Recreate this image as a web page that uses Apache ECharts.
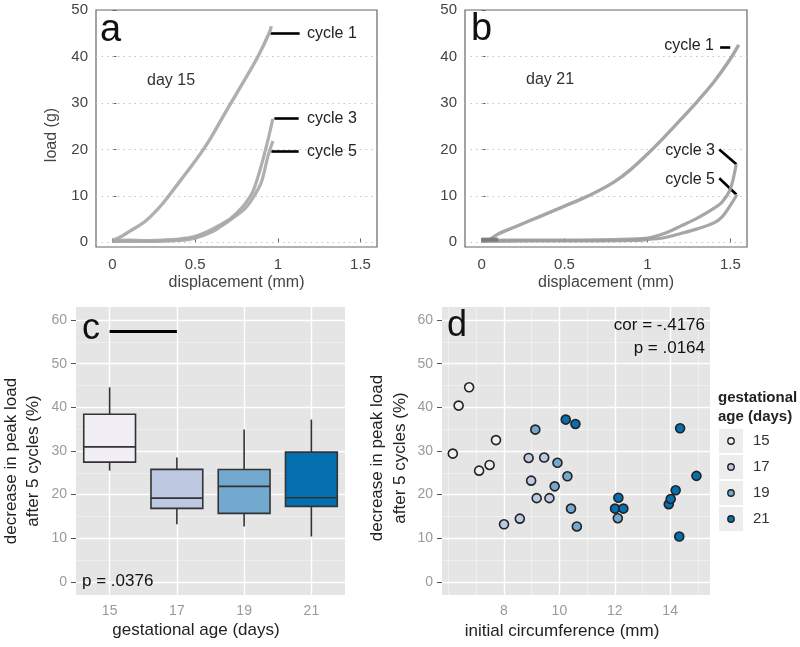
<!DOCTYPE html>
<html><head><meta charset="utf-8">
<script src="https://cdn.jsdelivr.net/npm/echarts@6/dist/echarts.min.js"></script>
<style>html,body{margin:0;padding:0;background:#fff}#c{width:800px;height:647px}</style>
</head><body><div id="c"></div>
<script>
// ---------- data: panel a (day 15), load (g) vs displacement (mm) ----------
const a15Cycle1 = [[0,0.4],[0.05,1.2],[0.1,2.3],[0.2,4.6],[0.3,8.2],[0.4,12.8],[0.5,17.5],[0.55,20],[0.6,22.8],[0.7,29],[0.8,35],[0.88,40],[0.95,45.2],[0.96,46.5]];
const a15Cycle3 = [[0,0.4],[0.1,0.5],[0.2,0.4],[0.3,0.5],[0.4,0.7],[0.5,1.3],[0.6,2.8],[0.7,4.8],[0.75,6.3],[0.8,8.2],[0.85,11],[0.9,16.5],[0.94,22],[0.97,26.6]];
const a15Cycle5 = [[0,0.2],[0.2,0.2],[0.4,0.4],[0.5,0.9],[0.6,2.2],[0.65,3.3],[0.7,4.5],[0.8,7.2],[0.85,9.6],[0.9,12.9],[0.94,18.5],[0.97,21.8]];
// ---------- data: panel b (day 21) ----------
const b21Cycle1 = [[0.05,0.6],[0.1,1.8],[0.2,3.3],[0.3,4.8],[0.4,6.3],[0.5,7.8],[0.6,9.3],[0.7,11],[0.8,13],[0.9,15.7],[1.0,19],[1.1,22.6],[1.2,26.4],[1.3,30.3],[1.4,34.5],[1.5,39.5],[1.55,42.5]];
const b21Cycle3 = [[0,0.4],[0.2,0.5],[0.4,0.5],[0.6,0.5],[0.8,0.6],[1.0,0.9],[1.1,1.9],[1.2,3.5],[1.3,5.2],[1.4,7.3],[1.45,8.7],[1.5,11.5],[1.535,16.8]];
const b21Cycle5 = [[0,0.2],[0.3,0.3],[0.6,0.3],[0.9,0.4],[1.0,0.6],[1.1,1.0],[1.2,1.9],[1.3,2.9],[1.4,4.2],[1.45,5.5],[1.5,8],[1.54,10.3]];
const b21Settle = [[0,0.6],[0.1,0.6]];
const abXTicks = [0,0.5,1,1.5];
const abYTicks = [0,10,20,30,40,50];

// ---------- data: panels c & d ----------
const ages = ['15','17','19','21'];
const circ15 = [6.15,6.36,6.74,7.10,7.48,7.71];
const dec15  = [29.4,40.4,44.6,25.5,26.8,32.5];
const circ17 = [8.0,8.57,8.89,8.98,9.18,9.45,9.64];
const dec17  = [13.2,14.5,28.4,23.2,19.2,28.5,19.2];
const circ19 = [9.13,9.83,9.93,10.29,10.42,10.63,12.11];
const dec19  = [34.9,21.9,27.3,24.2,16.8,12.7,14.6];
const circ21 = [10.23,10.58,12.01,12.13,12.31,13.95,14.02,14.2,14.36,14.33,14.95];
const dec21  = [37.2,36.2,16.8,19.3,16.8,17.8,19.0,21.0,35.2,10.4,24.3];
const cdYTicks = [0,10,20,30,40,50,60];
const cdYMinor = [5,15,25,35,45,55];
const dXTicks = [8,10,12,14];
const dXMinor = [6,7,9,11,13,15];
const sigBar = [['15',57.5],['17',57.5]];

const fills = ['#F1EEF6','#BDC9E1','#74A9CF','#0570B0'];
const FONT = '"Liberation Sans", Arial, Helvetica, sans-serif';

function quantile(s, p){ const h=(s.length-1)*p, lo=Math.floor(h); const hi=Math.min(lo+1,s.length-1); return s[lo]+(h-lo)*(s[hi]-s[lo]); }
function boxStats(vals){
  const s=[...vals].sort((a,b)=>a-b);
  const q1=quantile(s,.25), md=quantile(s,.5), q3=quantile(s,.75), iqr=q3-q1;
  const lo=s.find(v=>v>=q1-1.5*iqr), hi=[...s].reverse().find(v=>v<=q3+1.5*iqr);
  return [lo,q1,md,q3,hi];
}
const decs = [dec15,dec17,dec19,dec21];
const circs = [circ15,circ17,circ19,circ21];
const boxData = decs.map((d,i)=>[i, ...boxStats(d)]);

function txt(text, x, y, size, o={}) {
  return { type:'text', x, y, rotation:o.rot||0, z:100, silent:true,
    style:{ text, fontSize:size, fontFamily:FONT, fontWeight:o.bold?'bold':'normal', fill:o.color||'#222',
      align:o.align||'left', verticalAlign:'middle', textAlign:o.align||'left', textVerticalAlign:'middle',
      lineHeight:o.lh||Math.round(size*1.25) } };
}
function gridLines(xi, yi, hVals, vVals, style, z){
  return { type:'line', xAxisIndex:xi, yAxisIndex:yi, data:[], z, silent:true,
    markLine:{ silent:true, symbol:'none', animation:false, label:{show:false}, lineStyle:style, emphasis:{disabled:true},
      data:[...hVals.map(v=>({yAxis:v})), ...vVals.map(v=>({xAxis:v}))] } };
}
function annot(xi, yi, pairs, width){
  return { type:'line', xAxisIndex:xi, yAxisIndex:yi, data:[], z:20, silent:true,
    markLine:{ silent:true, symbol:'none', animation:false, label:{show:false}, emphasis:{disabled:true},
      lineStyle:{color:'#000', width, type:'solid'},
      data: pairs.map(p=>[{coord:p[0]},{coord:p[1]}]) } };
}
function curve(xi, yi, data, color, width){
  return { type:'line', xAxisIndex:xi, yAxisIndex:yi, data, showSymbol:false, smooth:0.3, z:5, silent:true,
    lineStyle:{color, width, opacity:0.9} };
}

const abX = (gi)=>({ type:'value', gridIndex:gi, min:-0.1, max:1.6,
  axisLine:{show:false}, splitLine:{show:false},
  axisTick:{show:true, inside:true, length:4, customValues:abXTicks, lineStyle:{color:'#666'}},
  axisLabel:{customValues:abXTicks, color:'#444', fontSize:15, fontFamily:FONT, margin:10} });
const abY = (gi)=>({ type:'value', gridIndex:gi, min:-1, max:50,
  axisLine:{show:false}, splitLine:{show:false},
  axisTick:{show:true, inside:true, length:4, customValues:abYTicks, lineStyle:{color:'#666'}},
  axisLabel:{customValues:abYTicks, color:'#444', fontSize:15, fontFamily:FONT, margin:8} });
const cdY = (gi)=>({ type:'value', gridIndex:gi, min:-3, max:63,
  axisLine:{show:false}, splitLine:{show:false},
  axisTick:{show:true, length:5, customValues:cdYTicks, lineStyle:{color:'#555'}},
  axisLabel:{customValues:cdYTicks, color:'#9a9a9a', fontSize:14, fontFamily:FONT, margin:9} });

const dotted = {color:'#c4c4c4', width:1, type:[1.5,4]};
const major = {color:'#ffffff', width:1.4, type:'solid'};
const minor = {color:'#f4f4f4', width:0.7, type:'solid'};

const legendEls = [];
ages.forEach((a,i)=>{
  const cy = 441 + i*26;
  legendEls.push({type:'rect', shape:{x:719,y:cy-12,width:24,height:24}, style:{fill:'#EDEDED'}, silent:true, z:50});
  legendEls.push({type:'circle', shape:{cx:731,cy,r:3.2}, style:{fill:fills[i], stroke:'#222', lineWidth:1.4}, silent:true, z:51});
  legendEls.push(txt(a, 753, cy, 15, {color:'#333'}));
});

const option = {
  animation:false,
  backgroundColor:'#fff',
  grid:[
    {left:96, top:10, width:281, height:237, show:true, borderColor:'#666', borderWidth:1.2, backgroundColor:'#fff'},
    {left:465, top:10, width:282, height:237, show:true, borderColor:'#666', borderWidth:1.2, backgroundColor:'#fff'},
    {left:76, top:307, width:269, height:288, show:true, borderWidth:0, backgroundColor:'#E5E5E5'},
    {left:442, top:307, width:268, height:288, show:true, borderWidth:0, backgroundColor:'#E5E5E5'}
  ],
  xAxis:[
    abX(0), abX(1),
    { type:'category', gridIndex:2, data:ages, boundaryGap:true,
      axisLine:{show:false}, splitLine:{show:false},
      axisTick:{show:true, alignWithLabel:true, length:5, lineStyle:{color:'#555'}},
      axisLabel:{color:'#9a9a9a', fontSize:14, fontFamily:FONT, margin:9} },
    { type:'value', gridIndex:3, min:5.76, max:15.44,
      axisLine:{show:false}, splitLine:{show:false},
      axisTick:{show:true, length:5, customValues:dXTicks, lineStyle:{color:'#555'}},
      axisLabel:{customValues:dXTicks, color:'#9a9a9a', fontSize:14, fontFamily:FONT, margin:9} }
  ],
  yAxis:[ abY(0), abY(1), cdY(2), cdY(3) ],
  series:[
    gridLines(0,0,[0,10,20,30,40],[],dotted,1),
    gridLines(1,1,[0,10,20,30,40],[],dotted,1),
    gridLines(2,2,cdYMinor,[],minor,1),
    gridLines(2,2,cdYTicks,ages,major,2),
    gridLines(3,3,cdYMinor,dXMinor,minor,1),
    gridLines(3,3,cdYTicks,dXTicks,major,2),
    curve(0,0,a15Cycle1,'#a6a6a6',3.4),
    curve(0,0,a15Cycle3,'#a6a6a6',3.2),
    curve(0,0,a15Cycle5,'#a6a6a6',3.2),
    curve(1,1,b21Cycle1,'#9c9c9c',3.4),
    curve(1,1,b21Cycle3,'#9c9c9c',3.2),
    curve(1,1,b21Cycle5,'#9c9c9c',3.2),
    curve(1,1,b21Settle,'#777777',4),
    annot(0,0,[[[0.955,44.9],[1.132,44.9]],[[0.979,26.8],[1.126,26.8]],[[0.961,19.7],[1.126,19.7]]],2.6),
    annot(1,1,[[[1.438,42.0],[1.499,42.0]],[[1.433,20.0],[1.536,16.8]],[[1.433,13.8],[1.536,10.3]]],2.6),
    annot(2,2,[sigBar],3),
    { type:'custom', xAxisIndex:2, yAxisIndex:2, z:10, silent:true,
      encode:{x:0, y:[1,2,3,4,5]}, data:boxData,
      renderItem:function(params, api){
        const i = api.value(0);
        const pLo=api.coord([i,api.value(1)]), pQ1=api.coord([i,api.value(2)]), pMd=api.coord([i,api.value(3)]),
              pQ3=api.coord([i,api.value(4)]), pHi=api.coord([i,api.value(5)]);
        const w = api.size([1,0])[0]*0.77, cx = pMd[0];
        const st = {stroke:'#333', lineWidth:1.6};
        return {type:'group', children:[
          {type:'line', shape:{x1:cx,y1:pHi[1],x2:cx,y2:pQ3[1]}, style:st},
          {type:'line', shape:{x1:cx,y1:pQ1[1],x2:cx,y2:pLo[1]}, style:st},
          {type:'rect', shape:{x:cx-w/2,y:pQ3[1],width:w,height:pQ1[1]-pQ3[1]}, style:{fill:fills[i], stroke:'#333', lineWidth:1.6}},
          {type:'line', shape:{x1:cx-w/2,y1:pMd[1],x2:cx+w/2,y2:pMd[1]}, style:st}
        ]};
      } },
    ...ages.map((a,i)=>({ type:'scatter', xAxisIndex:3, yAxisIndex:3, z:10, silent:true, symbol:'circle', symbolSize:9,
      itemStyle:{color:fills[i], borderColor:'#222', borderWidth:1.6, opacity:1},
      data: circs[i].map((c,k)=>[c, decs[i][k]]) }))
  ],
  graphic: [
    txt('a', 100, 31, 38, {color:'#111'}),
    txt('day 15', 147, 81, 16, {color:'#333'}),
    txt('cycle 1', 307, 34, 16, {color:'#222'}),
    txt('cycle 3', 307, 119, 16, {color:'#222'}),
    txt('cycle 5', 307, 152, 16, {color:'#222'}),
    txt('b', 471, 30, 38, {color:'#111'}),
    txt('day 21', 526, 80, 16, {color:'#333'}),
    txt('cycle 1', 714, 46, 16, {color:'#222', align:'right'}),
    txt('cycle 3', 715, 151, 16, {color:'#222', align:'right'}),
    txt('cycle 5', 715, 180, 16, {color:'#222', align:'right'}),
    txt('load (g)', 52, 135, 16, {color:'#444', rot:Math.PI/2, align:'center'}),
    txt('displacement (mm)', 236.5, 283, 16, {color:'#444', align:'center'}),
    txt('displacement (mm)', 606, 283, 16, {color:'#444', align:'center'}),
    txt('c', 82, 329, 36, {color:'#111'}),
    txt('p = .0376', 82, 581, 17, {color:'#111'}),
    txt('d', 447, 326, 36, {color:'#111'}),
    txt('cor = -.4176', 705, 325, 17, {color:'#111', align:'right'}),
    txt('p = .0164', 705, 348, 17, {color:'#111', align:'right'}),
    txt('decrease in peak load\nafter 5 cycles (%)', 22, 461, 17, {color:'#222', rot:Math.PI/2, align:'center', lh:22}),
    txt('decrease in peak load\nafter 5 cycles (%)', 389, 458, 17, {color:'#222', rot:Math.PI/2, align:'center', lh:23}),
    txt('gestational age (days)', 196, 630, 17, {color:'#222', align:'center'}),
    txt('initial circumference (mm)', 562, 631, 17, {color:'#222', align:'center'}),
    txt('gestational', 718, 398, 15, {color:'#222', bold:true}),
    txt('age (days)', 718, 417, 15, {color:'#222', bold:true}),
    ...legendEls
  ]
};
const chart = echarts.init(document.getElementById('c'), null, {renderer:'canvas'});
chart.setOption(option);
</script></body></html>
